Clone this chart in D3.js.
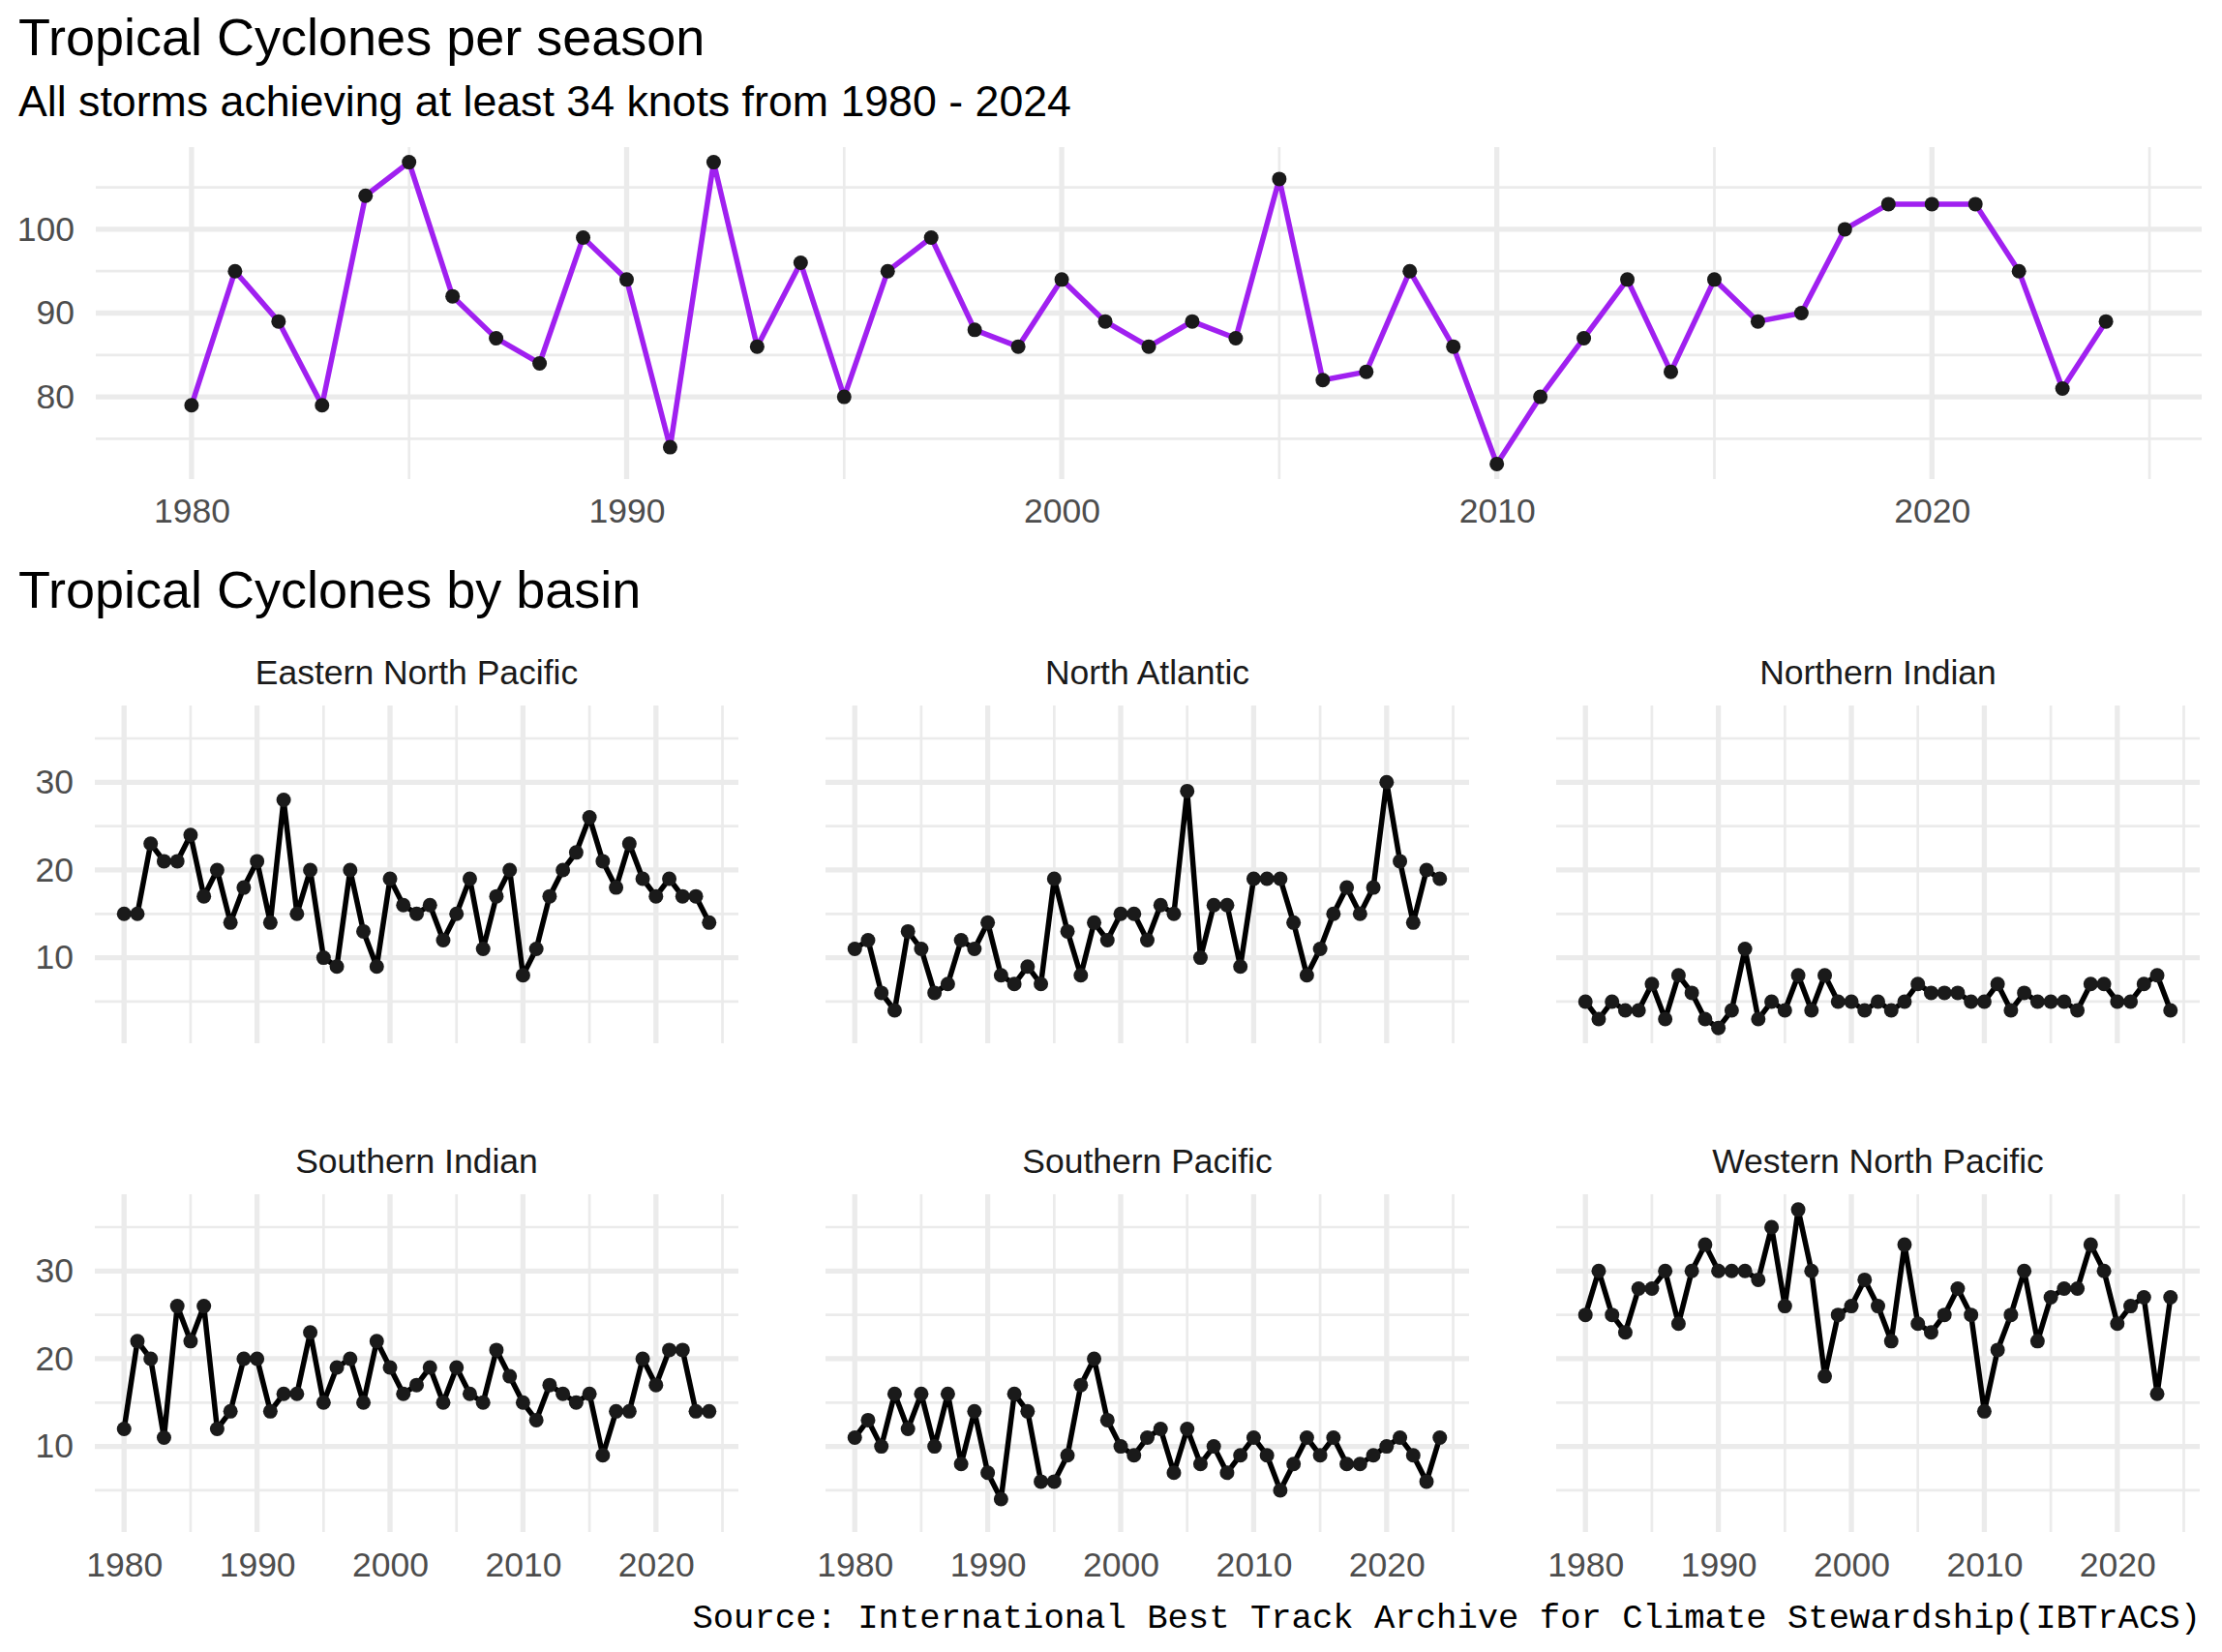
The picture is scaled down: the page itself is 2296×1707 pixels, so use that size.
<!DOCTYPE html>
<html>
<head>
<meta charset="utf-8">
<script src="https://cdn.jsdelivr.net/npm/d3@7"></script>
<style>
  body { margin: 0; background: #fff; }
  text { font-family: "Liberation Sans", Arial, sans-serif; }
</style>
</head>
<body>
<svg id="chart" width="2296" height="1707"></svg>
<script>
// seasons 1980 - 2024
const years = [1980,1981,1982,1983,1984,1985,1986,1987,1988,1989,
               1990,1991,1992,1993,1994,1995,1996,1997,1998,1999,
               2000,2001,2002,2003,2004,2005,2006,2007,2008,2009,
               2010,2011,2012,2013,2014,2015,2016,2017,2018,2019,
               2020,2021,2022,2023,2024];

// all storms >= 34 kt, global
const seasonTotals = [79,95,89,79,104,108,92,87,84,99,
                      94,74,108,86,96,80,95,99,88,86,
                      94,89,86,89,87,106,82,83,95,86,
                      72,80,87,94,83,94,89,90,100,103,
                      103,103,95,81,89];

const basinNames = ["Eastern North Pacific","North Atlantic","Northern Indian",
                    "Southern Indian","Southern Pacific","Western North Pacific"];

const eastNorthPacific = [15,15,23,21,21,24,17,20,14,18,21,14,28,15,20,10,9,20,13,9,
                          19,16,15,16,12,15,19,11,17,20,8,11,17,20,22,26,21,18,23,19,
                          17,19,17,17,14];
const northAtlantic    = [11,12,6,4,13,11,6,7,12,11,14,8,7,9,7,19,13,8,14,12,
                          15,15,12,16,15,29,10,16,16,9,19,19,19,14,8,11,15,18,15,18,
                          30,21,14,20,19];
const northernIndian   = [5,3,5,4,4,7,3,8,6,3,2,4,11,3,5,4,8,4,8,5,
                          5,4,5,4,5,7,6,6,6,5,5,7,4,6,5,5,5,4,7,7,
                          5,5,7,8,4];
const southernIndian   = [12,22,20,11,26,22,26,12,14,20,20,14,16,16,23,15,19,20,15,22,
                          19,16,17,19,15,19,16,15,21,18,15,13,17,16,15,16,9,14,14,20,
                          17,21,21,14,14];
const southernPacific  = [11,13,10,16,12,16,10,16,8,14,7,4,16,14,6,6,9,17,20,13,
                          10,9,11,12,7,12,8,10,7,9,11,9,5,8,11,9,11,8,8,9,
                          10,11,9,6,11];
const westNorthPacific = [25,30,25,23,28,28,30,24,30,33,30,30,30,29,35,26,37,30,18,25,
                          26,29,26,22,33,24,23,25,28,25,14,21,25,30,22,27,28,28,33,30,
                          24,26,27,16,27];

const basinSeries = [eastNorthPacific, northAtlantic, northernIndian,
                     southernIndian, southernPacific, westNorthPacific];

const yearTicks = [1980,1990,2000,2010,2020];
const yearMinor = [1985,1995,2005,2015,2025];
const totalTicks = [80,90,100];
const totalMinor = [75,85,95,105];
const basinTicks = [10,20,30];
const basinMinor = [5,15,25,35];

const svg = d3.select("#chart");
const gridCol = "#ebebeb", axisCol = "#4d4d4d";
const axisSize = "35.5px";

// ggplot style 5% expansion
function expand(ext){ const p = (ext[1]-ext[0])*0.05; return [ext[0]-p, ext[1]+p]; }

function drawPanel(g, x, y, xTicks, xMinor, yTicks, yMinor){
    const [x0, x1] = x.range(), [y1, y0] = y.range();
    g.append("g").selectAll("line").data(yMinor).join("line")
        .attr("x1", x0).attr("x2", x1).attr("y1", d => y(d)).attr("y2", d => y(d))
        .attr("stroke", gridCol).attr("stroke-width", 2.7);
    g.append("g").selectAll("line").data(xMinor.filter(d => x(d) <= x1)).join("line")
        .attr("x1", d => x(d)).attr("x2", d => x(d)).attr("y1", y0).attr("y2", y1)
        .attr("stroke", gridCol).attr("stroke-width", 2.7);
    g.append("g").selectAll("line").data(yTicks).join("line")
        .attr("x1", x0).attr("x2", x1).attr("y1", d => y(d)).attr("y2", d => y(d))
        .attr("stroke", gridCol).attr("stroke-width", 5.3);
    g.append("g").selectAll("line").data(xTicks).join("line")
        .attr("x1", d => x(d)).attr("x2", d => x(d)).attr("y1", y0).attr("y2", y1)
        .attr("stroke", gridCol).attr("stroke-width", 5.3);
}

function styleAxis(a){
    a.select(".domain").remove();
    a.selectAll(".tick line").remove();
    a.selectAll("text").attr("fill", axisCol).style("font-size", axisSize)
        .style("font-family", "'Liberation Sans', Arial, sans-serif");
}

function drawSeries(g, x, y, values, lineCol, lineW){
    const pts = years.map((yr, i) => ({yr: yr, v: values[i]}));
    g.append("path").datum(pts)
        .attr("fill", "none").attr("stroke", lineCol).attr("stroke-width", lineW)
        .attr("stroke-linejoin", "round")
        .attr("d", d3.line().x(d => x(d.yr)).y(d => y(d.v)));
    g.append("g").selectAll("circle").data(pts).join("circle")
        .attr("cx", d => x(d.yr)).attr("cy", d => y(d.v)).attr("r", 7.5)
        .attr("fill", "#1a1a1a");
}

// ---- top: totals per season ----
svg.append("text").attr("x", 19).attr("y", 57).style("font-size", "54px")
    .attr("fill", "#000").text("Tropical Cyclones per season");
svg.append("text").attr("x", 19).attr("y", 120).style("font-size", "44.7px")
    .attr("fill", "#000").text("All storms achieving at least 34 knots from 1980 - 2024");

const xTop = d3.scaleLinear().domain(expand(d3.extent(years))).range([99, 2275]);
const yTop = d3.scaleLinear().domain(expand(d3.extent(seasonTotals))).range([495, 152]);
const topPanel = svg.append("g");
drawPanel(topPanel, xTop, yTop, yearTicks, yearMinor, totalTicks, totalMinor);
drawSeries(topPanel, xTop, yTop, seasonTotals, "#a020f0", 5.5);
topPanel.append("g").attr("transform", "translate(0,495)")
    .call(d3.axisBottom(xTop).tickValues(yearTicks).tickFormat(d3.format("d")).tickSize(0).tickPadding(20))
    .call(styleAxis);
topPanel.append("g").attr("transform", "translate(99,0)")
    .call(d3.axisLeft(yTop).tickValues(totalTicks).tickSize(0).tickPadding(22))
    .call(styleAxis);

// ---- bottom: small multiples by basin ----
svg.append("text").attr("x", 19).attr("y", 628).style("font-size", "54px")
    .attr("fill", "#000").text("Tropical Cyclones by basin");

const colLeft = [98, 853, 1608], panelW = 665;
const rowTop = [729, 1234], panelH = 349;
const yBasin = d3.scaleLinear()
    .domain(expand(d3.extent(basinSeries.flat()))).range([panelH, 0]);

basinNames.forEach((name, i) => {
    const col = i % 3, row = Math.floor(i / 3);
    const x = d3.scaleLinear().domain(expand(d3.extent(years))).range([0, panelW]);
    const g = svg.append("g").attr("transform", "translate(" + colLeft[col] + "," + rowTop[row] + ")");
    drawPanel(g, x, yBasin, yearTicks, yearMinor, basinTicks, basinMinor);
    g.append("text").attr("x", panelW / 2).attr("y", -22).attr("text-anchor", "middle")
        .style("font-size", axisSize).attr("fill", "#1a1a1a").text(name);
    drawSeries(g, x, yBasin, basinSeries[i], "#000", 5.5);
    if (row === 1) {
        g.append("g").attr("transform", "translate(0," + panelH + ")")
            .call(d3.axisBottom(x).tickValues(yearTicks).tickFormat(d3.format("d")).tickSize(0).tickPadding(21))
            .call(styleAxis);
    }
    if (col === 0) {
        g.append("g")
            .call(d3.axisLeft(yBasin).tickValues(basinTicks).tickSize(0).tickPadding(22))
            .call(styleAxis);
    }
});

svg.append("text").attr("x", 2274).attr("y", 1682).attr("text-anchor", "end")
    .style("font-family", "'Liberation Mono', 'DejaVu Sans Mono', monospace")
    .style("font-size", "35.6px").attr("fill", "#000")
    .text("Source: International Best Track Archive for Climate Stewardship(IBTrACS)");
</script>
</body>
</html>
